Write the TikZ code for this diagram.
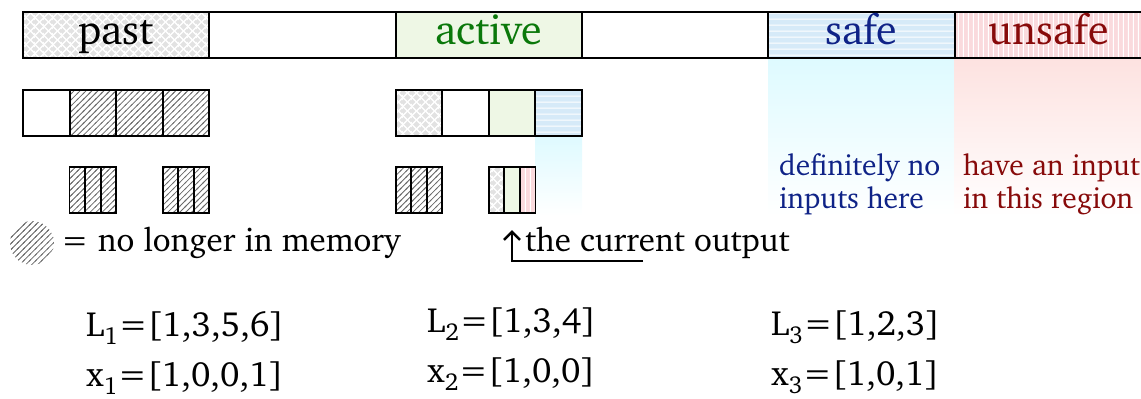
\documentclass[tikz,border=0pt]{standalone}
\usepackage[T1]{fontenc}
\usepackage{charter}
\usetikzlibrary{patterns.meta,arrows.meta}
\definecolor{diamgray}{RGB}{226,226,226}
\definecolor{hatchgray}{RGB}{105,105,105}
\definecolor{safebg}{RGB}{214,234,248}
\definecolor{unsafebg}{RGB}{250,218,221}
\definecolor{activebg}{RGB}{238,247,229}
\definecolor{activetxt}{RGB}{10,120,10}
\definecolor{safetxt}{RGB}{15,35,135}
\definecolor{unsafetxt}{RGB}{135,10,10}
\definecolor{safegrad}{RGB}{222,250,255}
\definecolor{unsafegrad}{RGB}{253,226,224}

\tikzdeclarepattern{
  name=diam, type=colored,
  bottom left={(0pt,0pt)}, top right={(9pt,9pt)}, tile size={(9pt,9pt)},
  code={
    \fill[diamgray] (4.5pt,1.1pt) -- (7.9pt,4.5pt) -- (4.5pt,7.9pt) -- (1.1pt,4.5pt) -- cycle;
    \fill[diamgray] (0pt,0pt) -- (3.4pt,0pt) -- (0pt,3.4pt) -- cycle;
    \fill[diamgray] (9pt,0pt) -- (5.6pt,0pt) -- (9pt,3.4pt) -- cycle;
    \fill[diamgray] (0pt,9pt) -- (3.4pt,9pt) -- (0pt,5.6pt) -- cycle;
    \fill[diamgray] (9pt,9pt) -- (5.6pt,9pt) -- (9pt,5.6pt) -- cycle;
  }
}
\tikzdeclarepattern{
  name=hatch, type=colored,
  bottom left={(-1pt,-1pt)}, top right={(7pt,7pt)}, tile size={(6pt,6pt)},
  code={\draw[hatchgray,line width=0.8pt] (-1pt,-1pt) -- (7pt,7pt);}
}
\tikzdeclarepattern{
  name=safelines, type=colored,
  bottom left={(0pt,0pt)}, top right={(6pt,6pt)}, tile size={(6pt,6pt)},
  code={\fill[safebg] (0pt,0pt) rectangle (6pt,6pt);
        \draw[white,line width=1pt] (0pt,3pt) -- (6pt,3pt);}
}
\tikzdeclarepattern{
  name=unsafelines, type=colored,
  bottom left={(0pt,0pt)}, top right={(5pt,5pt)}, tile size={(5pt,5pt)},
  code={\fill[unsafebg] (0pt,0pt) rectangle (5pt,5pt);
        \draw[white,line width=1pt] (2.5pt,0pt) -- (2.5pt,5pt);}
}

\begin{document}
\begin{tikzpicture}[x=1bp,y=-1bp,
  seg/.style={draw, line width=2bp, minimum width=186.333bp, minimum height=46bp,
    inner sep=0pt, outer sep=0pt, text height=27bp, text depth=9bp,
    font=\fontsize{42bp}{48bp}\selectfont},
  cell/.style={draw, line width=2bp, minimum width=46.583bp, minimum height=46bp, inner sep=0pt},
  strip/.style={draw, line width=1.8bp, minimum width=15.53bp, minimum height=46bp, inner sep=0pt},
  note/.style={font=\fontsize{29.5bp}{34bp}\selectfont, inner sep=0pt, anchor=base west},
  mid/.style={font=\fontsize{33bp}{38bp}\selectfont, inner sep=0pt, anchor=base west},
  low/.style={font=\fontsize{35bp}{40bp}\selectfont, inner sep=0pt, anchor=base west},
  arrowline/.style={line width=2.8bp, -{Straight Barb[length=8bp,width=16bp,line width=2.6bp]}},
]
\useasboundingbox (0,0) rectangle (1141,398);

% gradients
\shade[top color=safegrad, bottom color=white] (768,58) rectangle (954.67,216);
\shade[top color=unsafegrad, bottom color=white] (954.67,58) rectangle (1141,216);
\shade[top color=safegrad, bottom color=white] (535.42,136) rectangle (582,216);

% top bar
\node[seg, pattern=diam] (past) at (116.17,35) {past};
\node[seg] (gap1) at (302.5,35) {};
\node[seg, fill=activebg, text=activetxt] (active) at (488.83,35) {active};
\node[seg] (gap2) at (675.17,35) {};
\node[seg, pattern=safelines, text=safetxt] (safe) at (861.5,35) {safe};
\node[seg, pattern=unsafelines, text=unsafetxt, minimum width=188.333bp] (unsafe) at (1048.83,35) {unsafe};

% second row
\node[cell] (a1) at (46.29,113) {};
\node[cell, pattern=hatch] (a2) at (92.875,113) {};
\node[cell, pattern=hatch] (a3) at (139.46,113) {};
\node[cell, pattern=hatch] (a4) at (186.04,113) {};
\node[cell, pattern=diam] (b1) at (418.96,113) {};
\node[cell] (b2) at (465.54,113) {};
\node[cell, fill=activebg] (b3) at (512.125,113) {};
\node[cell, pattern=safelines] (b4) at (558.71,113) {};

% third row
\node[strip, pattern=hatch] (p1) at (77.35,190) {};
\node[strip, pattern=hatch] (p2) at (92.875,190) {};
\node[strip, pattern=hatch] (p3) at (108.41,190) {};
\node[strip, pattern=hatch] (q1) at (170.52,190) {};
\node[strip, pattern=hatch] (q2) at (186.04,190) {};
\node[strip, pattern=hatch] (q3) at (201.57,190) {};
\node[strip, pattern=hatch] (r1) at (403.43,190) {};
\node[strip, pattern=hatch] (r2) at (418.96,190) {};
\node[strip, pattern=hatch] (r3) at (434.49,190) {};
\node[strip, pattern=diam] (s1) at (496.6,190) {};
\node[strip, fill=activebg] (s2) at (512.125,190) {};
\node[strip, pattern=unsafelines] (s3) at (527.65,190) {};

% right texts
\node[note, text=safetxt] (safeA) at (779,175) {definitely no};
\node[note, text=safetxt] (safeB) at (779,208) {inputs here};
\node[note, text=unsafetxt] (unsafeA) at (963,175) {have an input};
\node[note, text=unsafetxt] (unsafeB) at (963,208) {in this region};

% legend
\fill[pattern=hatch] (32,243) circle (22);
\node[mid] (legend) at (61,251) {= no longer in memory};

% current output
\coordinate (arrfoot) at (643,261);
\coordinate (arrtip) at (512,230);
\draw[arrowline] (arrfoot) -| (arrtip);
\node[mid] (curout) at (525,251) {the current output};

% bottom
\node[low] (L1) at (86,336) {L\textsubscript{1}=[1,3,5,6]};
\node[low] (X1) at (86,386) {x\textsubscript{1}=[1,0,0,1]};
\node[low] (L2) at (427,332) {L\textsubscript{2}=[1,3,4]};
\node[low] (X2) at (427,382) {x\textsubscript{2}=[1,0,0]};
\node[low] (L3) at (771,335) {L\textsubscript{3}=[1,2,3]};
\node[low] (X3) at (771,385) {x\textsubscript{3}=[1,0,1]};
\end{tikzpicture}
\end{document}
